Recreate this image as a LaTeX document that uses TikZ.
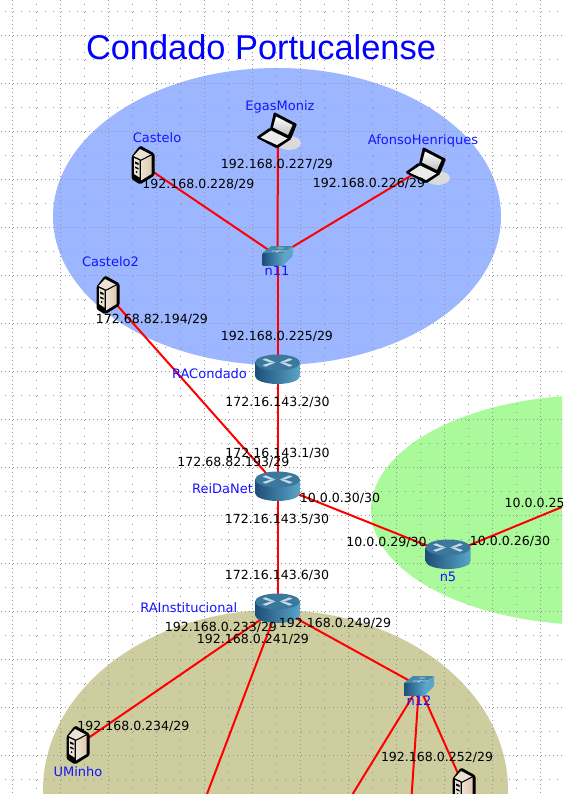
\documentclass[tikz,border=0pt]{standalone}
\usepackage{fontspec}
\newfontfamily\titlefont{Liberation Sans}
\newfontfamily\labelfont{DejaVu Sans}
\usetikzlibrary{backgrounds}

\definecolor{zoneblue}{RGB}{156,182,255}
\definecolor{zonegreen}{RGB}{170,250,155}
\definecolor{zoneolive}{RGB}{205,205,160}
\definecolor{gridgray}{RGB}{150,150,150}
\definecolor{labelblue}{RGB}{20,20,255}
\definecolor{ciscodark}{RGB}{28,78,120}
\definecolor{ciscomid}{RGB}{60,120,158}
\definecolor{ciscolight}{RGB}{90,165,200}
\definecolor{ciscopale}{RGB}{195,220,232}
\definecolor{boxcream}{RGB}{236,226,212}

\newcommand{\routericon}{
    \begin{scope}[shift={(path picture bounding box.center)}]
        \path[left color=ciscodark, right color=ciscolight] (-22.5,-6.5) -- (-22.5,7) arc[start angle=180, end angle=0, x radius=22.5, y radius=8] -- (22.5,-6.5) -- cycle;
        \fill[ciscomid] (0,-6.5) ellipse [x radius=22.5, y radius=8];
        % the four arrows on top
        \foreach \sx in {-1,1} {
            \fill[ciscopale] (\sx*2,-6.5) -- (\sx*12,-2.3) -- (\sx*15,-3.8) -- (\sx*7,-6.5) -- cycle;
            \fill[ciscopale] (\sx*2,-6.5) -- (\sx*12,-10.7) -- (\sx*15,-9.2) -- (\sx*7,-6.5) -- cycle;
        }
    \end{scope}
}
\newcommand{\switchicon}{
    \begin{scope}[shift={(path picture bounding box.center)}]
        \fill[ciscomid!70!ciscolight] (-15,-3) -- (6,-3) -- (15,-10) -- (-6,-10) -- cycle;
        \path[left color=ciscodark, right color=ciscolight] (-15,-3) rectangle (6,9);
        \fill[ciscolight] (6,-3) -- (15,-10) -- (15,0) -- (6,9) -- cycle;
        \draw[ciscopale, line width=0.7] (-6,-5) -- (0,-5) (0,-8) -- (6,-8) (-1,-3.8) -- (3,-6) (3,-5) -- (9,-5);
    \end{scope}
}
\newcommand{\servericon}{
    \begin{scope}[shift={(path picture bounding box.center)}]
        \fill[black, rounded corners=1.5] (-3,-19.5) -- (11.5,-11.5) -- (11.5,10.5) -- (-3,19.5) -- (-11.5,14) -- (-11.5,-8.5) -- cycle;
        \path[left color=boxcream, right color=boxcream!75!brown] (-2,-4) -- (8.5,-9.5) -- (8.5,9) -- (-2,15.5) -- cycle;
        \fill[boxcream] (-3,-16) -- (7.5,-10.5) -- (-2,-5.5) -- (-9.5,-9) -- cycle;
        \fill[boxcream] (-9,-7) -- (-3.5,-4.5) -- (-3.5,12.5) -- (-9,9) -- cycle;
        \fill[black] (-8,-3.5) -- (-4.5,-2) -- (-4.5,0) -- (-8,-1.5) -- cycle;
        \fill[black] (-8,1.5) -- (-4.5,3) -- (-4.5,4.5) -- (-8,3) -- cycle;
        \fill[black] (-6.5,7) circle (1);
    \end{scope}
}
\newcommand{\laptopicon}{
    \begin{scope}[shift={(path picture bounding box.center)}]
        \fill[black!14] (11,12) ellipse [x radius=12, y radius=7];
        \fill[black, rounded corners=1] (-4,-19) -- (19,-7) -- (13,8) -- (-8,-2) -- cycle;
        \path[top color=white, bottom color=black!25] (-2,-14.5) -- (14.5,-6) -- (10,4) -- (-5,-3.5) -- cycle;
        \fill[black, rounded corners=1.5] (-8,-3.5) -- (-22,6.5) -- (-1,17.5) -- (14,7.5) -- cycle;
        \fill[white!92!black] (-7,-0.5) -- (-17.5,6.5) -- (-1,14) -- (9.5,7.5) -- cycle;
    \end{scope}
}

\tikzset{
    routerbox/.style={minimum width=46, minimum height=32, inner sep=0, path picture={\routericon}},
    switchbox/.style={minimum width=31, minimum height=20, inner sep=0, path picture={\switchicon}},
    serverbox/.style={minimum width=24, minimum height=40, inner sep=0, path picture={\servericon}},
    laptopbox/.style={minimum width=46, minimum height=40, inner sep=0, path picture={\laptopicon}},
    namelabel/.style={text=labelblue, inner sep=0, text height=9.5pt, text depth=0pt, font=\labelfont\fontsize{13}{14}\selectfont},
    iplabel/.style={text=black, inner sep=0, text height=9.2pt, text depth=0pt, font=\labelfont\fontsize{12.55}{14}\selectfont},
    link/.style={red, line width=2},
    majordots/.style={gridgray, line width=1, dash pattern=on 1pt off 3pt},
    minordots/.style={gridgray, line width=1, dash pattern=on 1pt off 7pt}
}

\begin{document}
\begin{tikzpicture}[x=1pt, y=-1pt]
    \useasboundingbox (0,0) rectangle (562,794);

    % Routers
    \foreach \nm/\x/\y in {RACondado/277.5/369, ReiDaNet/277.5/486, n5/448/554, RAInstitucional/277.5/608} {
        \node[routerbox] (\nm) at (\x,\y) {};
    }
    % Switches
    \foreach \nm/\x/\y in {n11/277.5/256, n12/419/686} {
        \node[switchbox] (\nm) at (\x,\y) {};
    }
    % Servers
    \foreach \nm/\x/\y in {Castelo/143/165, Castelo2/108/295, UMinho/78/745, srvBottom/464/787} {
        \node[serverbox] (\nm) at (\x,\y) {};
    }
    % Laptops
    \foreach \nm/\x/\y in {EgasMoniz/278/131, AfonsoHenriques/427/166} {
        \node[laptopbox] (\nm) at (\x,\y) {};
    }

    % Links leaving the page
    \coordinate (outRight) at (562,507);
    \coordinate (outA) at (207,794);
    \coordinate (outB) at (352.7,794);
    \coordinate (outC) at (411.7,794);

    % Title and names
    \node[text=blue, inner sep=0, font=\titlefont\fontsize{34.4}{38}\selectfont] (title) at (261,47) {Condado Portucalense};
    \foreach \nm/\x/\y/\txt in {lbEgas/280/106/EgasMoniz, lbCastelo/157/138/Castelo, lbCastelo2/110.5/262/Castelo2,
        lbAfonso/423/140/AfonsoHenriques, lbN11/277/271/n11, lbRACondado/209.5/374/RACondado,
        lbReiDaNet/222.5/489/ReiDaNet, lbN5/448/577/n5, lbRAInst/188.7/607.7/RAInstitucional,
        lbUMinho/78/772/UMinho, lbN12/419/701/n12} {
        \node[namelabel] (\nm) at (\x,\y) {\txt};
    }

    % Addresses
    \foreach \nm/\x/\y/\txt in {ipA/277/164/{192.168.0.227/29}, ipB/198.4/184/{192.168.0.228/29}, ipC/369/183/{192.168.0.226/29},
        ipD/152/319/{172.68.82.194/29}, ipE/277/336/{192.168.0.225/29}, ipF/277.5/402/{172.16.143.2/30},
        ipG/277.5/453/{172.16.143.1/30}, ipH/233.4/461.7/{172.68.82.193/29}, ipI/340/498/{10.0.0.30/30},
        ipJ/277/519/{172.16.143.5/30}, ipK/386.5/542/{10.0.0.29/30}, ipL/510/541/{10.0.0.26/30},
        ipN/277/575/{172.16.143.6/30}, ipO/221/627/{192.168.0.233/29}, ipP/253/639/{192.168.0.241/29},
        ipQ/335/623/{192.168.0.249/29}, ipR/133.4/726/{192.168.0.234/29}, ipS/437/757/{192.168.0.252/29}} {
        \node[iplabel] (\nm) at (\x,\y) {\txt};
    }
    \node[iplabel, anchor=west] (ipM) at (504.5,503) {10.0.0.25};

    \begin{scope}[on background layer]
        \clip (0,0) rectangle (562,794);
        % Zones
        \fill[zoneblue] (277,216.5) ellipse [x radius=224, y radius=148.5];
        \fill[zonegreen] (595,510) ellipse [x radius=224, y radius=115];
        \fill[zoneolive] (275.5,790) ellipse [x radius=232.5, y radius=180];

        % Canvas grid
        \foreach \k in {0,...,11} {
            \draw[majordots] (12.5+48*\k,0) -- (12.5+48*\k,794);
            \draw[minordots] (36.5+48*\k,4) -- (36.5+48*\k,794);
        }
        \foreach \k in {0,...,16} {
            \draw[majordots] (1,35.5+48*\k) -- (562,35.5+48*\k);
            \draw[minordots] (5,11.5+48*\k) -- (562,11.5+48*\k);
        }

        % Links
        \foreach \a/\b in {Castelo/n11, EgasMoniz/n11, AfonsoHenriques/n11, n11/RACondado, RACondado/ReiDaNet,
            Castelo2/ReiDaNet, ReiDaNet/n5, n5/outRight, ReiDaNet/RAInstitucional, RAInstitucional/UMinho,
            RAInstitucional/outA, RAInstitucional/n12, n12/outB, n12/outC, n12/srvBottom} {
            \draw[link] (\a.center) -- (\b.center);
        }
    \end{scope}
\end{tikzpicture}
\end{document}
